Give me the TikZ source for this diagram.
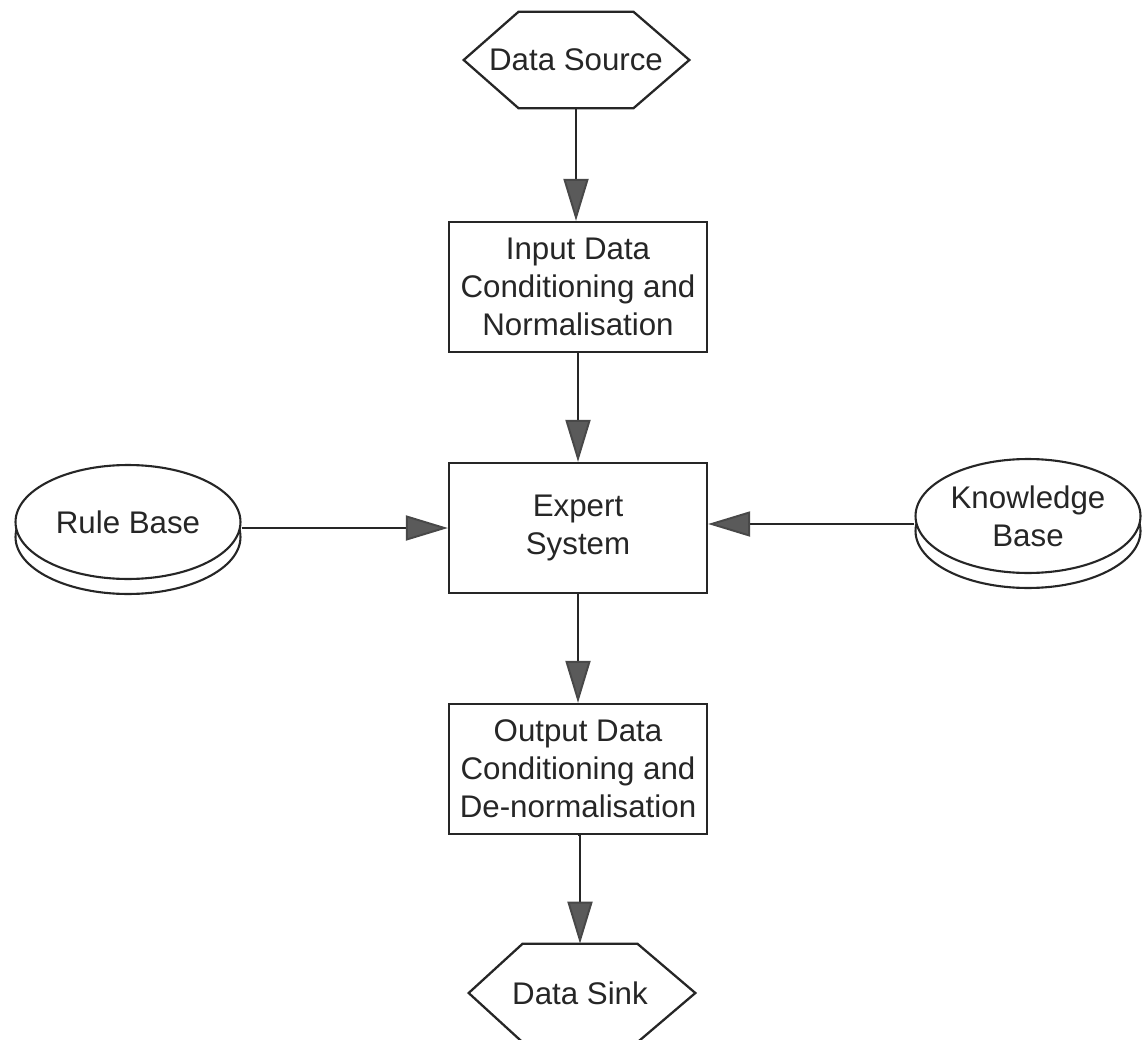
\documentclass[tikz,border=0pt]{standalone}
\usepackage{fontspec}
\setmainfont{Liberation Sans}
\usetikzlibrary{arrows.meta,shapes.geometric}

\definecolor{inkline}{HTML}{262626}
\definecolor{headfill}{HTML}{5A5A5A}

\tikzset{
  lbl/.style={font=\fontsize{17.8}{21.6}\selectfont, text=inkline, align=center},
  procbox/.style={lbl, draw=inkline, line width=1.3pt, fill=white,
    minimum width=5.16cm, minimum height=2.6cm, inner sep=0pt},
  hexbody/.style={lbl, minimum width=2.28cm, minimum height=1.92cm, inner sep=0pt},
  hexline/.style={draw=inkline, line width=1.3pt, line join=miter},
  disk/.style={lbl, ellipse, draw=inkline, line width=1.2pt, fill=white,
    minimum width=4.5cm, minimum height=2.28cm, inner sep=0pt},
  flow/.style={draw=inkline, line width=1.1pt,
    -{Triangle[length=0.84cm, width=0.5cm, fill=headfill, color=headfill!80!black]}},
}

\begin{document}
\begin{tikzpicture}[x=0.02cm, y=-0.02cm]
  \useasboundingbox (0,0) rectangle (1142,1040);

  % source terminal (hexagon); the label runs past the flat top edge
  \node[hexbody] (src) at (576,60) {\makebox[0pt]{Data Source}};
  \draw[hexline] (src.north west) -- (src.north east) -- ([xshift=1.12cm]src.east)
    -- (src.south east) -- (src.south west) -- ([xshift=-1.1cm]src.west) -- cycle;

  % processing chain
  \node[procbox] (in)  at (578,287) {Input Data\\Conditioning and\\Normalisation};
  \node[procbox] (ex)  at (578,528) {Expert\\System};
  \node[procbox] (out) at (578,769) {Output Data\\Conditioning and\\De-normalisation};

  % sink terminal (hexagon)
  \node[hexbody, minimum height=1.96cm] (snk) at (580,993) {\makebox[0pt]{Data Sink}};
  \draw[hexline] (snk.north west) -- (snk.north east) -- ([xshift=1.16cm]snk.east)
    -- (snk.south east) -- (snk.south west) -- ([xshift=-1.08cm]snk.west) -- cycle;

  % stored bases drawn as stacked disks
  \node[disk] (rbshadow) at (128,537) {};
  \node[disk] (rb) at (128,522) {Rule Base};
  \node[disk] (kbshadow) at (1028,531) {};
  \node[disk] (kb) at (1028,516) {Knowledge\\Base};

  % connectors
  \draw[flow] (src.south) -- (src.south |- in.north);
  \draw[flow] (in) -- (ex);
  \draw[flow] (ex) -- (out);
  \draw[flow] (out.south) -- (out.south -| snk.north) -- (snk.north);
  \draw[flow] (rb.east |- ex.west) -- (ex.west);
  \draw[flow] ([yshift=0.08cm]kb.west |- ex.east) -- ([yshift=0.08cm]ex.east);
\end{tikzpicture}
\end{document}
